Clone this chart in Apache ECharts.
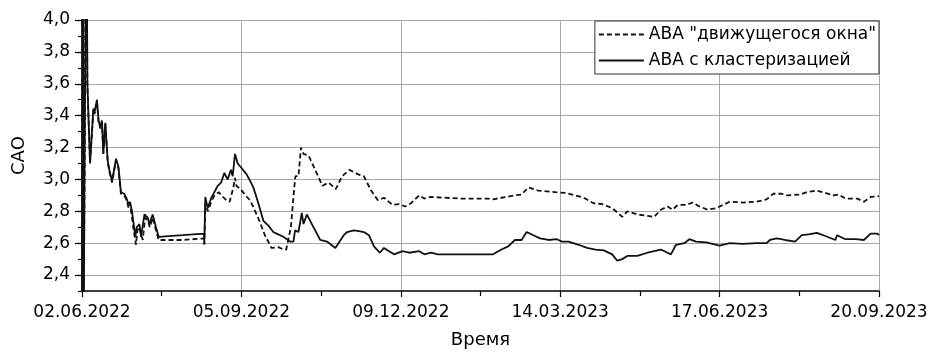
<!DOCTYPE html>
<html>
<head>
<meta charset="utf-8">
<script src="https://cdn.jsdelivr.net/npm/echarts@6/dist/echarts.min.js"></script>
<style>html,body{margin:0;padding:0;background:#fff}#c{width:932px;height:354px}</style>
</head>
<body>
<div id="c"></div>
<script>
// X ticks: days since 02.06.2022, every 95 days
var xTickLabels = ['02.06.2022','05.09.2022','09.12.2022','14.03.2023','17.06.2023','20.09.2023'];
var yTickValues = [2.4,2.6,2.8,3.0,3.2,3.4,3.6,3.8,4.0];

// АВА с кластеризацией (solid)
var solidDays = [0,0.5,1.0,1.9,2.4,2.8,3.2,4.8,6.8,7.5,8.9,9.9,10.9,11.9,12.7,13.9,15.3,16.3,17.9,20.3,21.7,23.2,25.2,26.6,27.8,28.6,29.8,30.8,31.8,32.6,34.2,35.2,37.2,39.2,40.1,42.1,44.1,45.7,60,72.6,72.9,73.5,74.9,76.9,78.9,80.9,82.9,84.8,86.8,88.8,89.8,91.2,92.8,95.2,98.2,101.2,102.1,105.1,108.1,111.1,114,116,120,124,126,127,129,131,132,134,137,142,146,151,156,158,162,165,168,171,174,177.5,180,183,186,191,195,201,204,208,212,230,245,250,254,258,262,265,269,273,278,283,286,290,296,301,306,311,316,319,322,325,331,337,345,351,354,359,362,366,372,380,386,394,402,408,410,414,419,425,429,433,438,443,449,450,455,461,466,470,474,475];
var solidVals = [2.0,4.6,2.1,2.1,4.6,4.5,3.6,3.10,3.445,3.42,3.50,3.365,3.33,3.37,3.165,3.355,3.12,3.06,2.99,3.13,3.08,2.92,2.91,2.88,2.84,2.86,2.80,2.72,2.64,2.70,2.72,2.64,2.78,2.76,2.72,2.78,2.70,2.64,2.65,2.66,2.60,2.89,2.82,2.88,2.92,2.96,2.98,3.04,3.00,3.06,3.02,3.16,3.10,3.07,3.03,2.97,2.95,2.85,2.74,2.71,2.67,2.66,2.64,2.61,2.61,2.68,2.67,2.79,2.72,2.78,2.72,2.62,2.61,2.57,2.65,2.67,2.68,2.675,2.67,2.65,2.58,2.54,2.57,2.55,2.53,2.55,2.54,2.55,2.53,2.54,2.53,2.53,2.53,2.56,2.58,2.62,2.62,2.67,2.65,2.63,2.62,2.625,2.61,2.61,2.59,2.57,2.56,2.555,2.53,2.49,2.50,2.52,2.52,2.54,2.56,2.53,2.59,2.60,2.625,2.61,2.605,2.585,2.60,2.595,2.60,2.60,2.62,2.63,2.62,2.61,2.65,2.655,2.665,2.645,2.62,2.65,2.625,2.625,2.62,2.66,2.66,2.65];

// АВА "движущегося окна" (dashed)
var dashDays = [0,0.5,1.0,1.9,2.4,2.8,3.2,4.8,6.8,7.5,8.9,9.9,10.9,11.9,12.7,13.9,15.3,16.3,17.9,20.3,21.7,23.2,25.2,26.6,27.8,28.6,29.8,30.8,32.2,33,34.2,36.2,37.6,39.4,40.4,42.1,44.1,45.7,60,72.6,72.9,73.5,75,77,79,81.5,84,86,88,90.2,91.2,92,94.4,97.5,100,102,106.1,109,113,117,120,121.7,124.5,126.5,127.2,129,130.5,132,135,139.4,143.3,147,151.3,155,159.4,165,168,172.3,176.3,180,185,189,192.6,196,201,204,208,225,242,245,250,258,262,266,272,277,282,288,294,299,305,310,316,322,325,331,338,341,345,349,352,355,360,364,368,373,378,382,386,394,402,408,412,417,420,428,432,438,443,448,451,455,462,466,470,475];
var dashVals = [2.0,4.6,2.1,2.1,4.6,4.5,3.59,3.11,3.44,3.41,3.49,3.36,3.32,3.36,3.16,3.35,3.11,3.05,2.98,3.12,3.07,2.91,2.90,2.87,2.82,2.85,2.76,2.68,2.59,2.68,2.70,2.62,2.76,2.74,2.70,2.76,2.68,2.62,2.62,2.63,2.59,2.85,2.80,2.86,2.90,2.92,2.89,2.87,2.86,2.95,3.01,2.96,2.94,2.90,2.87,2.83,2.73,2.65,2.57,2.575,2.56,2.56,2.70,2.95,3.02,3.02,3.20,3.16,3.15,3.05,2.96,2.98,2.94,3.02,3.06,3.03,3.02,2.93,2.87,2.885,2.84,2.845,2.83,2.85,2.90,2.88,2.89,2.88,2.88,2.875,2.885,2.90,2.905,2.95,2.93,2.925,2.92,2.915,2.90,2.885,2.85,2.845,2.82,2.765,2.80,2.78,2.77,2.765,2.81,2.83,2.81,2.84,2.84,2.855,2.83,2.81,2.82,2.84,2.86,2.855,2.86,2.875,2.91,2.91,2.90,2.905,2.92,2.93,2.915,2.90,2.905,2.88,2.88,2.86,2.89,2.895];

function pairs(d, v){ return d.map(function(x,i){ return [x, v[i]]; }); }

var FONT = 'DejaVu Sans';
var chart = echarts.init(document.getElementById('c'), null, {renderer:'canvas'});
chart.setOption({
  animation: false,
  backgroundColor: '#ffffff',
  grid: {left: 82, right: 53, top: 20, bottom: 53, containLabel: false},
  legend: {
    orient: 'vertical', right: 53, top: 21,
    backgroundColor: '#fff', borderColor: '#333', borderWidth: 1,
    padding: [3, 3, 3, 3], itemGap: 5, itemWidth: 45, itemHeight: 12,
    itemStyle: {opacity: 0},
    textStyle: {fontFamily: FONT, fontSize: 17, color: '#000', lineHeight: 21},
    data: ['АВА "движущегося окна"', 'АВА с кластеризацией']
  },
  xAxis: {
    type: 'value', min: 0, max: 475, interval: 95,
    name: 'Время', nameLocation: 'middle', nameGap: 40,
    nameTextStyle: {fontFamily: FONT, fontSize: 18, color: '#000'},
    axisLine: {show: true, lineStyle: {color: '#000', width: 1.5}},
    axisTick: {show: true, length: 6, lineStyle: {color: '#000', width: 1.2}},
    minorTick: {show: true, splitNumber: 2, length: 5, lineStyle: {color: '#000', width: 1.2}},
    axisLabel: {fontFamily: FONT, fontSize: 17, color: '#000', margin: 13,
      formatter: function(v){ return xTickLabels[Math.round(v/95)] || ''; }},
    splitLine: {show: true, lineStyle: {color: '#a8a8a8', width: 1}}
  },
  yAxis: [{
    type: 'value', min: 2.3, max: 4.0, interval: 0.1,
    name: 'САО', nameLocation: 'middle', nameGap: 54, nameRotate: 90,
    nameTextStyle: {fontFamily: FONT, fontSize: 18, color: '#000'},
    axisLine: {show: true, lineStyle: {color: '#000', width: 1.5}},
    axisTick: {show: true, length: 7, customValues: yTickValues, lineStyle: {color: '#000', width: 1.2}},
    axisLabel: {fontFamily: FONT, fontSize: 17, color: '#000', margin: 12, customValues: yTickValues,
      formatter: function(v){ return v.toFixed(1).replace('.', ','); }},
    splitLine: {show: true, lineStyle: {color: '#a8a8a8', width: 1}}
  }, {
    type: 'value', min: 2.3, max: 4.0, interval: 0.1, position: 'left',
    axisLine: {show: false},
    axisTick: {show: true, length: 4, lineStyle: {color: '#000', width: 1.2}},
    axisLabel: {show: false},
    splitLine: {show: false}
  }],
  series: [{
    name: 'АВА "движущегося окна"', type: 'line', yAxisIndex: 0,
    data: pairs(dashDays, dashVals), showSymbol: false, symbol: 'none', clip: true,
    lineStyle: {color: '#111', width: 1.8, type: [5, 3]}, itemStyle: {color: '#111'}
  }, {
    name: 'АВА с кластеризацией', type: 'line', yAxisIndex: 0,
    data: pairs(solidDays, solidVals), showSymbol: false, symbol: 'none', clip: true,
    lineStyle: {color: '#111', width: 1.8}, itemStyle: {color: '#111'}
  }]
});
</script>
</body>
</html>
